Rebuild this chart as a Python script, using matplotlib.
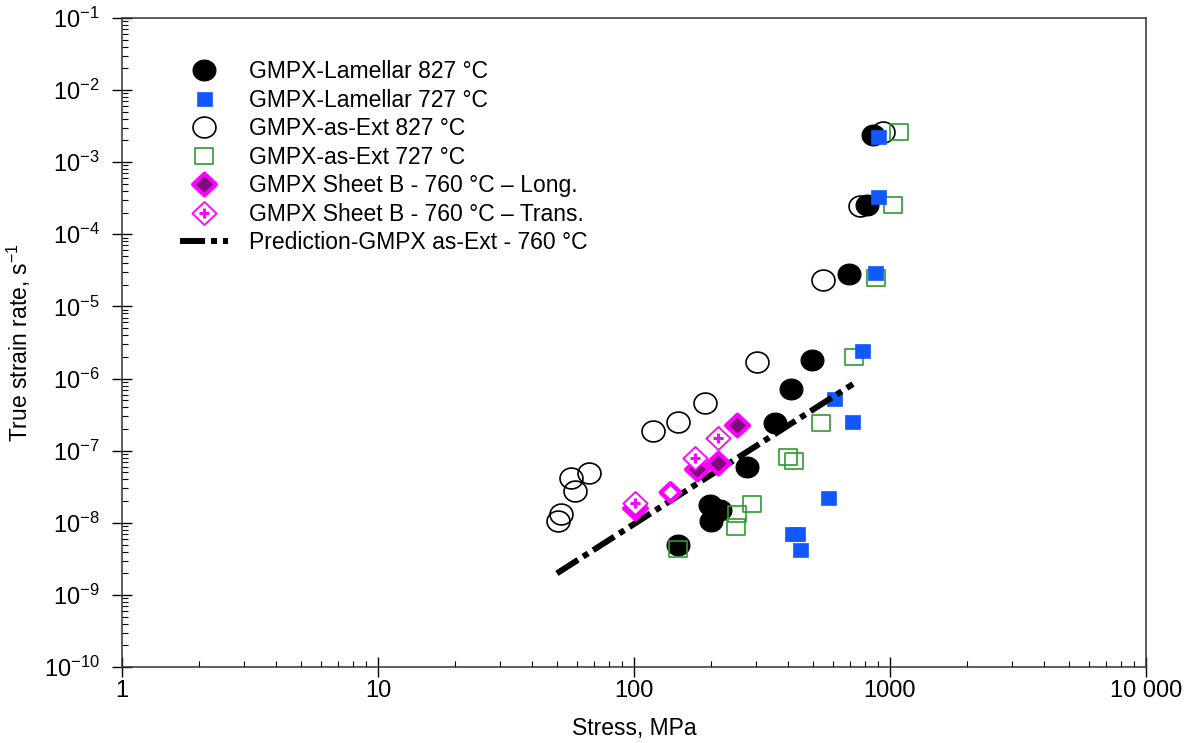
import matplotlib
matplotlib.use("Agg")
import matplotlib.pyplot as plt
import numpy as np
from matplotlib.path import Path
from matplotlib.ticker import LogLocator, NullFormatter
from matplotlib.legend_handler import HandlerTuple

plt.rcParams["font.family"] = ["Liberation Sans", "DejaVu Sans"]
plt.rcParams["mathtext.fontset"] = "custom"
plt.rcParams["mathtext.rm"] = "Liberation Sans"
plt.rcParams["mathtext.it"] = "Liberation Sans:italic"
plt.rcParams["mathtext.bf"] = "Liberation Sans:bold"
plt.rcParams["mathtext.default"] = "regular"

# stress (MPa) / true strain rate (1/s)
lam827_stress = [859, 813, 692, 496, 410, 355, 276, 198, 217, 200, 148]
lam827_rate = [2.4e-3, 2.55e-4, 2.8e-5, 1.8e-6, 7.2e-7, 2.4e-7, 5.9e-8, 1.75e-8, 1.5e-8, 1.05e-8, 5.0e-9]

lam727_stress = [898, 898, 874, 778, 604, 711, 573, 414, 433, 445]
lam727_rate = [2.25e-3, 3.3e-4, 2.9e-5, 2.4e-6, 5.2e-7, 2.5e-7, 2.2e-8, 7.0e-9, 7.0e-9, 4.2e-9]

ext827_stress = [939, 764, 547, 302, 189, 148, 119, 67, 57, 59, 52, 50.5]
ext827_rate = [2.6e-3, 2.5e-4, 2.3e-5, 1.7e-6, 4.6e-7, 2.5e-7, 1.9e-7, 4.9e-8, 4.2e-8, 2.75e-8, 1.35e-8, 1.05e-8]

ext727_stress = [1084, 1027, 881, 723, 537, 400, 422, 289, 253, 250, 148]
ext727_rate = [2.6e-3, 2.55e-4, 2.5e-5, 2.0e-6, 2.4e-7, 8.1e-8, 7.2e-8, 1.8e-8, 1.35e-8, 8.8e-9, 4.3e-9]

long_stress = [253, 213, 176, 101]
long_rate = [2.25e-7, 6.7e-8, 5.6e-8, 1.6e-8]

trans_stress = [213, 173, 101]
trans_rate = [1.5e-7, 8.0e-8, 1.9e-8]

# hollow diamond without the cross
trans_open_stress = [138]
trans_open_rate = [2.7e-8]

pred_stress = [50, 717]
pred_rate = [2.0e-9, 8.4e-7]

BLUE = "#1158FF"
GREEN = "#2E9A2E"
MAGENTA = "#FF00FF"
PURPLE = "#7E0A7E"
FS = 16.5


def poly_marker(xy):
    xy = np.asarray(xy, dtype=float)
    xy = np.vstack([xy, xy[0]])
    return Path(xy, closed=True)


t = np.linspace(0, 2 * np.pi, 72, endpoint=False)
ellipse = poly_marker(np.column_stack([np.cos(t), 0.91 * np.sin(t)]))
rect = poly_marker([[-1, -0.88], [1, -0.88], [1, 0.88], [-1, 0.88]])
diamond = poly_marker([[1, 0], [0, 0.95], [-1, 0], [0, -0.95]])

fig = plt.figure(figsize=(11.85, 7.43), dpi=100)
ax = fig.add_axes([0.103, 0.102, 0.864, 0.874])

h_ext827, = ax.plot(ext827_stress, ext827_rate, ls="none", marker=ellipse, ms=16.5,
                    mfc="none", mec="black", mew=1.2)
h_lam827, = ax.plot(lam827_stress, lam827_rate, ls="none", marker=ellipse, ms=16.5,
                    mfc="black", mec="black", mew=0.8)
h_ext727, = ax.plot(ext727_stress, ext727_rate, ls="none", marker=rect, ms=13,
                    mfc="none", mec=GREEN, mew=1.2)
h_lam727, = ax.plot(lam727_stress, lam727_rate, ls="none", marker=rect, ms=10.8,
                    mfc=BLUE, mec=BLUE, mew=0.5)
h_pred, = ax.plot(pred_stress, pred_rate, color="black", lw=4.3,
                  ls=(0, (4.2, 1.0, 1.0, 1.0)), dash_capstyle="butt")
ax.plot(trans_open_stress, trans_open_rate, ls="none", marker=diamond, ms=14,
        mfc="white", mec=MAGENTA, mew=3.2)
h_long, = ax.plot(long_stress, long_rate, ls="none", marker=diamond, ms=16.5,
                  mfc=PURPLE, mec=MAGENTA, mew=3.0)
h_trans, = ax.plot(trans_stress, trans_rate, ls="none", marker=diamond, ms=17.5,
                   mfc="white", mec=MAGENTA, mew=1.3)
h_plus, = ax.plot(trans_stress, trans_rate, ls="none", marker="+", ms=6.5,
                  mec=MAGENTA, mew=2.2)

ax.set_xscale("log")
ax.set_yscale("log")
ax.set_xlim(1, 1e4)
ax.set_ylim(1e-10, 1e-1)

ax.set_xticks([1, 10, 100, 1000, 10000], ["1", "10", "100", "1000", "10 000"])
ax.yaxis.set_major_locator(LogLocator(base=10, numticks=20))
ax.xaxis.set_minor_locator(LogLocator(base=10, subs=np.arange(2, 10), numticks=20))
ax.yaxis.set_minor_locator(LogLocator(base=10, subs=np.arange(2, 10), numticks=20))
ax.xaxis.set_minor_formatter(NullFormatter())
ax.yaxis.set_minor_formatter(NullFormatter())

ax.tick_params(which="major", direction="inout", length=14, width=1, labelsize=17,
               colors="black")
ax.tick_params(axis="y", which="major", pad=9)
ax.tick_params(axis="x", which="major", pad=2)
ax.tick_params(which="minor", direction="in", length=4.5, width=0.8)
ax.tick_params(top=False, right=False, which="both")

for sp in ax.spines.values():
    sp.set_linewidth(1.1)
    sp.set_color("#333333")

ax.set_xlabel("Stress, MPa", fontsize=FS, labelpad=11)
ax.set_ylabel("True strain rate, s$^{-1}$", fontsize=FS, labelpad=8)

ax.legend(
    [h_lam827, h_lam727, h_ext827, h_ext727, h_long, (h_trans, h_plus), h_pred],
    ["GMPX-Lamellar 827 °C", "GMPX-Lamellar 727 °C", "GMPX-as-Ext 827 °C",
     "GMPX-as-Ext 727 °C", "GMPX Sheet B - 760 °C – Long.",
     "GMPX Sheet B - 760 °C – Trans.", "Prediction-GMPX as-Ext - 760 °C"],
    handler_map={tuple: HandlerTuple(ndivide=1)},
    loc="upper left", bbox_to_anchor=(0.0566, 0.935), frameon=False,
    fontsize=FS, numpoints=1, handlelength=2.1, handletextpad=0.9,
    labelspacing=0.24, borderpad=0, borderaxespad=0,
)

fig.savefig("out.png", dpi=100)
